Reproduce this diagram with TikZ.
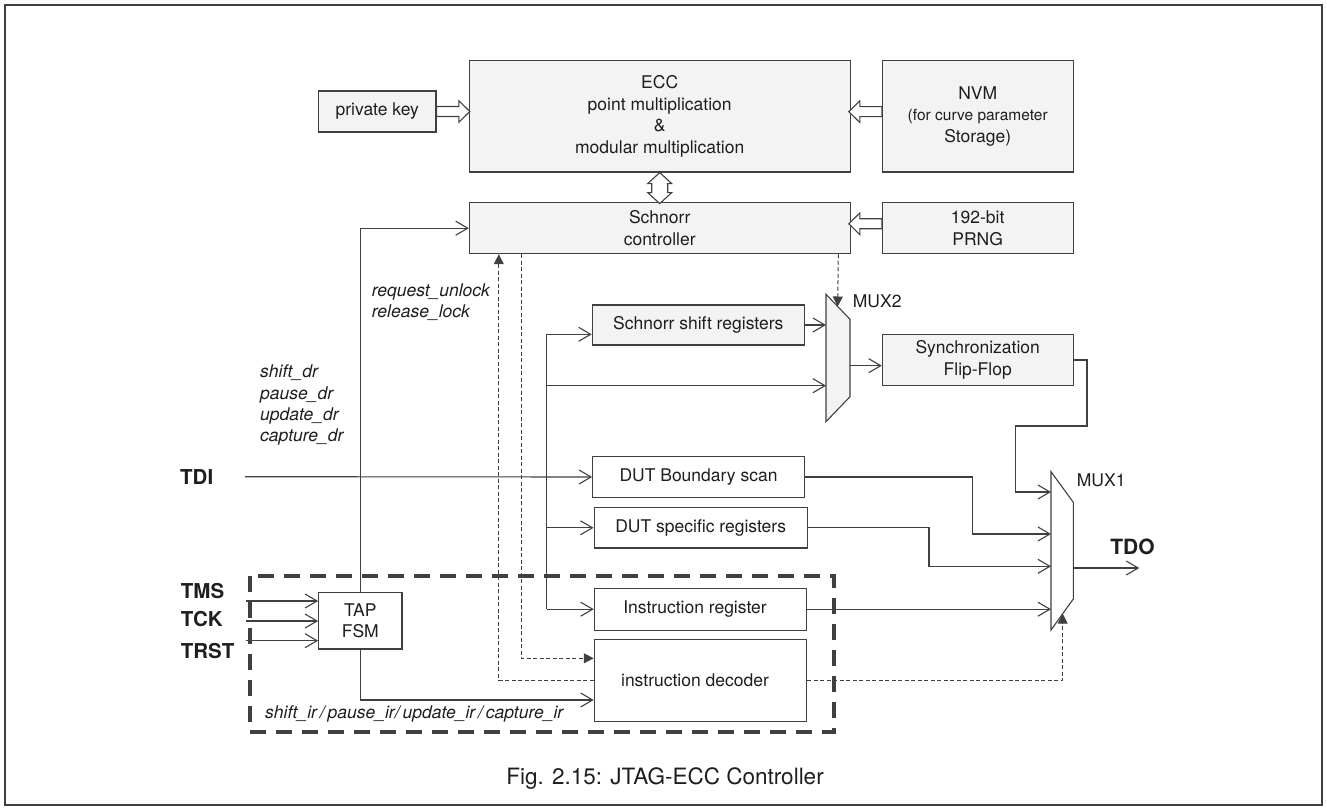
\documentclass[tikz,border=0pt]{standalone}
\usepackage{fontspec}
\setmainfont{TeX Gyre Heros}
\usetikzlibrary{arrows.meta,calc}
\definecolor{ink}{HTML}{404040}
\definecolor{txt}{HTML}{1E1E1E}
\definecolor{panel}{HTML}{F3F3F3}
\begin{document}
\begin{tikzpicture}[x=1pt,y=-1pt,
  every node/.style={text=txt, font=\fontsize{17.5}{21.5}\selectfont},
  blk/.style={draw=ink, line width=1.1pt, inner sep=0pt, align=center},
  gbox/.style={blk, fill=panel},
  wbox/.style={blk, fill=white},
  muxshape/.style={draw=ink, line width=1.1pt},
  wire/.style={draw=ink, line width=1.1pt},
  arr/.style={wire, -{Straight Barb[length=12pt,width=14pt]}},
  ctlline/.style={draw=ink, line width=1pt, dash pattern=on 4pt off 2.5pt},
  ctl/.style={ctlline, -{Triangle[length=10pt,width=10pt]}},
  pinlabel/.style={font=\bfseries\fontsize{20.5}{24}\selectfont, anchor=west, inner sep=0pt},
  siglabel/.style={font=\itshape\fontsize{17.5}{21.5}\selectfont, anchor=west, inner sep=0pt},
  blockline/.style={draw=ink, line width=1.1pt, fill=white, line join=miter},
  pics/blockarrow/.style={code={
    \draw[blockline] (0,-5) -- (#1-11,-5) -- (#1-11,-10.8) -- (#1,0)
      -- (#1-11,10.8) -- (#1-11,5) -- (0,5) -- cycle;
  }},
  pics/dblarrow/.style={code={
    \draw[blockline] (0,0) -- (12,11) -- (8,11) -- (8,20) -- (12,20) -- (0,31)
      -- (-12,20) -- (-8,20) -- (-8,11) -- (-12,11) -- cycle;
  }},
]
\useasboundingbox (0,0) rectangle (1327,810);
\draw[ink, line width=1.1pt] (5,5) rectangle (1322,805);

% ---- crypto blocks ----
\node[gbox, minimum width=117.3pt, minimum height=41pt] (pk) at (377.3,111.5) {private key};
\node[gbox, minimum width=380.7pt, minimum height=111.7pt] (ecc) at (659.7,116.2)
  {ECC\\point multiplication\\\&\\modular multiplication};
\node[gbox, minimum width=190.7pt, minimum height=111.7pt] (nvm) at (977.7,116.2)
  {NVM\\\fontsize{15.5}{21}\selectfont(for curve parameter\\Storage)};
\node[gbox, minimum width=380.7pt, minimum height=51pt] (sc) at (659.7,228.2) {Schnorr\\controller};
\node[gbox, minimum width=190.7pt, minimum height=51pt] (prng) at (977.7,228.2) {192-bit\\PRNG};
\node[gbox, minimum width=212pt, minimum height=40pt] (ssr) at (698.3,325) {Schnorr shift registers};
\node[gbox, minimum width=190.7pt, minimum height=51.4pt] (sff) at (977.7,360) {Synchronization\\Flip-Flop};

% ---- JTAG blocks ----
\node[wbox, minimum width=211.6pt, minimum height=40.6pt] (dbs) at (698.5,477) {DUT Boundary scan};
\node[wbox, minimum width=213.3pt, minimum height=40.3pt] (dsr) at (700.7,527.8) {DUT specific registers};
\node[wbox, minimum width=212.4pt, minimum height=41.7pt] (ir) at (700.5,609.2) {\hspace*{-11pt}Instruction register};
\node[wbox, minimum width=212.4pt, minimum height=82.4pt] (id) at (700.5,680.5) {\hspace*{-11pt}instruction decoder};
\node[wbox, minimum width=83.3pt, minimum height=56.3pt] (tap) at (360.3,620.8) {TAP\\FSM};

% ---- multiplexers ----
\draw[muxshape, fill=panel] (826,294.3) -- (850,319.3) -- (850,396.7) -- (826,421.7) -- cycle;
\coordinate (m2a) at (826,324.3);
\coordinate (m2b) at (826,385.7);
\coordinate (m2o) at (850,365.7);
\coordinate (m2s) at (837.7,306.5);
\node[anchor=west, inner sep=0pt] (mux2lbl) at (852.7,301) {MUX2};

\draw[muxshape, fill=white] (1051,471.7) -- (1073.3,502.3) -- (1073.3,599) -- (1051,630) -- cycle;
\coordinate (m1a) at (1051,492);
\coordinate (m1b) at (1051,534);
\coordinate (m1c) at (1051,566.3);
\coordinate (m1d) at (1051,610);
\coordinate (m1o) at (1073.3,568);
\coordinate (m1s) at (1062.7,613.7);
\node[anchor=west, inner sep=0pt] (mux1lbl) at (1076.7,480.7) {MUX1};

% ---- pins ----
\node[pinlabel] (tdi) at (180,476.7) {TDI};
\node[pinlabel] (tms) at (180.7,590.7) {TMS};
\node[pinlabel] (tck) at (180.7,619.3) {TCK};
\node[pinlabel] (trst) at (180.7,650.7) {TRST};
\node[font=\bfseries\fontsize{21}{24}\selectfont] (tdo) at (1132.5,546.7) {TDO};
\coordinate (tdi-in) at (245,476.7);
\coordinate (tms-in) at (245.7,601);
\coordinate (tck-in) at (245.7,621);
\coordinate (trst-in) at (245.7,640.7);
\coordinate (tdo-out) at (1139.3,568);

% ---- signal names ----
\node[siglabel] (sdr1) at (260,372.3) {shift\_dr};
\node[siglabel] (sdr2) at (260,394.7) {pause\_dr};
\node[siglabel] (sdr3) at (260,415.7) {update\_dr};
\node[siglabel] (sdr4) at (260,437.3) {capture\_dr};
\node[siglabel] (lock1) at (371.7,291.7) {request\_unlock};
\node[siglabel] (lock2) at (371.7,312.3) {release\_lock};
\node[siglabel] (sir) at (265,714) {shift\_ir\,/\,pause\_ir/\,update\_ir\,/\,capture\_ir};

% ---- wide data paths ----
\pic at (pk.east) {blockarrow=33.3};
\pic[rotate=180] at ([yshift=4.5pt]nvm.west) {blockarrow=33};
\pic[rotate=180] at ([yshift=4.4pt]prng.west) {blockarrow=33};
\pic at (ecc.south) {dblarrow};

% ---- serial data bus ----
\coordinate (bus-top) at (546.7,334.3);
\coordinate (bus-bot) at (546.7,609.2);
\draw[wire] (bus-top) -- (bus-bot);
\draw[arr] (bus-top) -- (bus-top -| ssr.west);
\draw[arr] (bus-top |- m2b) -- (m2b);
\draw[arr] (bus-top |- dsr.west) -- (dsr.west);
\draw[arr] (bus-bot) -- (ir.west);
\draw[arr] (tdi-in) -- (dbs.west);

% ---- TAP controller ----
\draw[arr] (tms-in) -- (tms-in -| tap.west);
\draw[arr] (tck-in) -- (tck-in -| tap.west);
\draw[arr] (trst-in) -- (trst-in -| tap.west);
\draw[arr] (tap.north) |- (sc.west);
\draw[arr] (tap.south) |- ([yshift=-19.5pt]id.west);

% ---- control lines ----
\draw[ctl] (id.west) -| ([xshift=30pt]sc.south west);
\draw[ctl] ([xshift=52.4pt]sc.south west) |- ([yshift=22.2pt]id.west);
\draw[ctl] ([xshift=-12.3pt]sc.south east) -- (m2s);
\draw[ctl] (id.east) -| (m1s);

% ---- MUX2 path ----
\draw[arr] (ssr.east) -- (ssr.east -| m2a);
\draw[arr] (m2o) -- (m2o -| sff.west);

% ---- MUX1 inputs and output ----
\coordinate (fb1) at (1087,426);
\coordinate (fb2) at (1015.7,426);
\draw[arr] (sff.east) -| (fb1) -- (fb2) |- (m1a);
\coordinate (j1) at (972.3,534);
\draw[arr] (dbs.east) -| (j1) -- (m1b);
\coordinate (j2) at (929,566.3);
\draw[arr] (dsr.east) -| (j2) -- (m1c);
\draw[arr] (ir.east) -- (ir.east -| m1d);
\draw[arr] (m1o) -- (tdo-out);

% ---- JTAG boundary ----
\draw[ink, line width=3.5pt, dash pattern=on 16pt off 10pt] (250,576) rectangle (834,732);

% ---- caption ----
\node[font=\fontsize{22.5}{26}\selectfont] (caption) at (665,779) {Fig. 2.15: JTAG-ECC Controller};
\end{tikzpicture}
\end{document}
